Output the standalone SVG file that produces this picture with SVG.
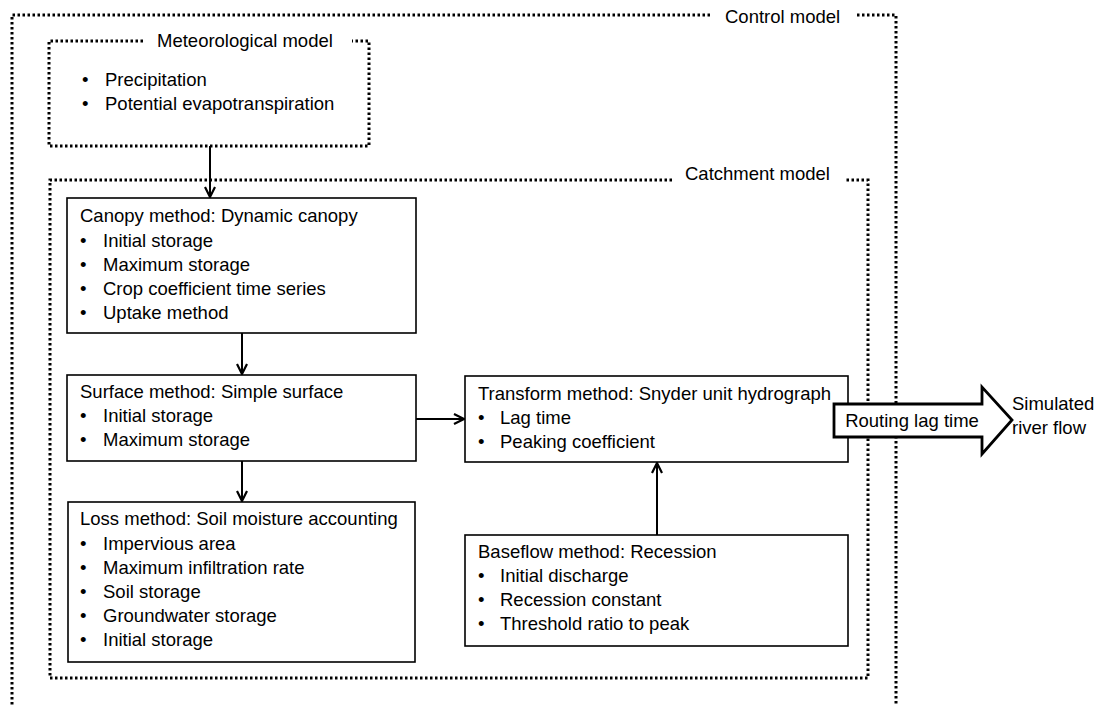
<svg xmlns="http://www.w3.org/2000/svg" width="1095" height="706" viewBox="0 0 1095 706">
<style>
text{font-family:"Liberation Sans",Arial,sans-serif;font-size:18.5px;fill:#000}
.dot{fill:none;stroke:#000;stroke-width:3;stroke-dasharray:2.5 2.5}
.box{fill:#fff;stroke:#000;stroke-width:1.6}
.con{fill:none;stroke:#000;stroke-width:2}
</style>
<defs>
<marker id="ah" viewBox="0 0 12 12" refX="11" refY="6" markerWidth="12" markerHeight="12" markerUnits="userSpaceOnUse" orient="auto">
<path d="M1,1 L11,6 L1,11" fill="none" stroke="#000" stroke-width="2.2"/>
</marker>
</defs>
<rect width="1095" height="706" fill="#fff"/>
<g id="control-model">
<path class="dot" d="M710,15 H12 V706"/>
<path class="dot" d="M857,15 H896 V706"/>
<text x="725" y="23">Control model</text>
</g>
<g id="meteorological-model">
<path class="dot" d="M143,41 H49 V146 H369 V41 H352"/>
<text x="157" y="47">Meteorological model</text>
<text x="82" y="86">•</text><text x="105" y="86">Precipitation</text>
<text x="82" y="110">•</text><text x="105" y="110">Potential evapotranspiration</text>
</g>
<g id="catchment-model">
<path class="dot" d="M672,180 H50 V678 H868 V180 H845"/>
<text x="685" y="180">Catchment model</text>
</g>
<g id="canopy">
<rect class="box" x="67" y="198" width="349" height="135"/>
<text x="80" y="222">Canopy method: Dynamic canopy</text>
<text x="80" y="247">•</text><text x="103" y="247">Initial storage</text>
<text x="80" y="271">•</text><text x="103" y="271">Maximum storage</text>
<text x="80" y="295">•</text><text x="103" y="295">Crop coefficient time series</text>
<text x="80" y="319">•</text><text x="103" y="319">Uptake method</text>
</g>
<g id="surface">
<rect class="box" x="67" y="375" width="349" height="86"/>
<text x="80" y="398">Surface method: Simple surface</text>
<text x="80" y="422">•</text><text x="103" y="422">Initial storage</text>
<text x="80" y="446">•</text><text x="103" y="446">Maximum storage</text>
</g>
<g id="loss">
<rect class="box" x="68" y="502" width="347" height="160"/>
<text x="80" y="525">Loss method: Soil moisture accounting</text>
<text x="80" y="550">•</text><text x="103" y="550">Impervious area</text>
<text x="80" y="574">•</text><text x="103" y="574">Maximum infiltration rate</text>
<text x="80" y="598">•</text><text x="103" y="598">Soil storage</text>
<text x="80" y="622">•</text><text x="103" y="622">Groundwater storage</text>
<text x="80" y="646">•</text><text x="103" y="646">Initial storage</text>
</g>
<g id="transform">
<rect class="box" x="465" y="376" width="383" height="86"/>
<text x="478" y="400">Transform method: Snyder unit hydrograph</text>
<text x="478" y="424">•</text><text x="500" y="424">Lag time</text>
<text x="478" y="448">•</text><text x="500" y="448">Peaking coefficient</text>
</g>
<g id="baseflow">
<rect class="box" x="465" y="535" width="383" height="111"/>
<text x="478" y="558">Baseflow method: Recession</text>
<text x="478" y="582">•</text><text x="500" y="582">Initial discharge</text>
<text x="478" y="606">•</text><text x="500" y="606">Recession constant</text>
<text x="478" y="630">•</text><text x="500" y="630">Threshold ratio to peak</text>
</g>
<g id="connectors">
<line class="con" x1="210" y1="146" x2="210" y2="197" marker-end="url(#ah)"/>
<line class="con" x1="242" y1="333" x2="242" y2="374" marker-end="url(#ah)"/>
<line class="con" x1="242" y1="461" x2="242" y2="501" marker-end="url(#ah)"/>
<line class="con" x1="416" y1="419" x2="464" y2="419" marker-end="url(#ah)"/>
<line class="con" x1="657" y1="535" x2="657" y2="463" marker-end="url(#ah)"/>
</g>
<g id="routing">
<path d="M834,404 H982 V387 L1012,420 L982,454 V437 H834 Z" fill="#fff" stroke="#000" stroke-width="2.8" stroke-linejoin="miter"/>
<text x="912" y="427" text-anchor="middle">Routing lag time</text>
</g>
<g id="output">
<text x="1012" y="410">Simulated</text>
<text x="1012" y="434">river flow</text>
</g>
</svg>
